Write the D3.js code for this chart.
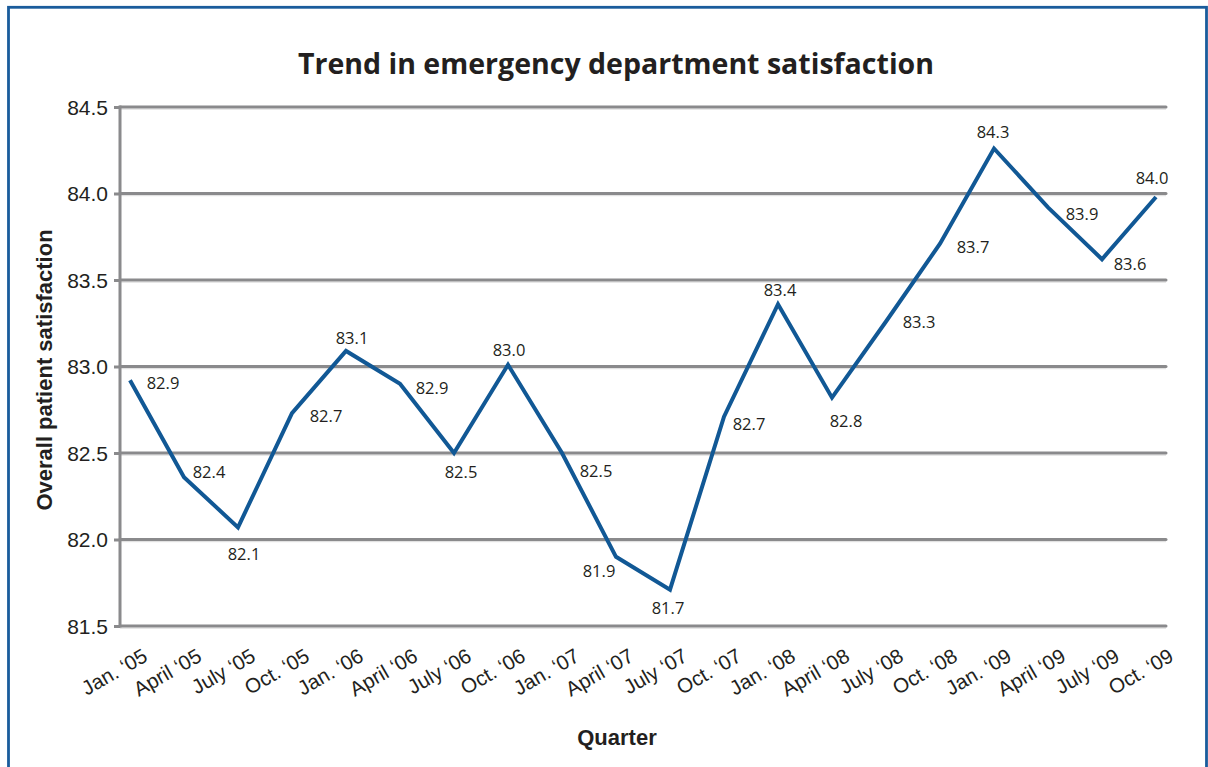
<!DOCTYPE html>
<html>
<head>
<meta charset="utf-8">
<script src="https://cdn.jsdelivr.net/npm/d3@7"></script>
<style>
  html, body { margin: 0; padding: 0; background: #fff; }
  svg { display: block; }
</style>
</head>
<body>
<svg id="chart" width="1208" height="767"></svg>
<script>
// ---- data ----
const quarters = ["Jan. \u201805", "April \u201805", "July \u201805", "Oct. \u201805",
  "Jan. \u201806", "April \u201806", "July \u201806", "Oct. \u201806",
  "Jan. \u201807", "April \u201807", "July \u201807", "Oct. \u201807",
  "Jan. \u201808", "April \u201808", "July \u201808", "Oct. \u201808",
  "Jan. \u201809", "April \u201809", "July \u201809", "Oct. \u201809"];
const satisfaction = [82.92, 82.36, 82.07, 82.73, 83.09, 82.90, 82.50, 83.01,
  82.50, 81.90, 81.71, 82.71, 83.36, 82.82, 83.26, 83.71, 84.26, 83.92, 83.62, 83.98];
const yTicks = [81.5, 82.0, 82.5, 83.0, 83.5, 84.0, 84.5];
// label placement offsets (label centre relative to point), in px
const labelOffsets = [[33,3],[25,-5],[6,27],[34,3],[6,-13],[32,4],[7,19],[1,-15],
  [34,18],[-17,14],[-2,18],[25,7],[2,-14],[14,23],[33,1],[33,3],[-1,-16],[34,7],[28,5],[-4,-19]];

const titleText = "Trend in emergency department satisfaction";
const yTitle = "Overall patient satisfaction";
const xTitle = "Quarter";

// ---- layout ----
const svg = d3.select("#chart");
const plot = { left: 120, right: 1166, top: 107, bottom: 626 };

// border
svg.append("rect")
  .attr("x", 8.5).attr("y", 7.3).attr("width", 1198).attr("height", 800)
  .attr("fill", "none").attr("stroke", "#1a5c9c").attr("stroke-width", 2.8);

const x = d3.scalePoint().domain(quarters).range([130, 1156]);
const y = d3.scaleLinear().domain([81.5, 84.5]).range([plot.bottom, plot.top]);

// gridlines (with faint shadow)
const grid = svg.append("g");
grid.selectAll("line.shadow").data(yTicks).enter().append("line")
  .attr("class", "shadow")
  .attr("x1", plot.left).attr("x2", plot.right)
  .attr("y1", d => y(d) + 2.2).attr("y2", d => y(d) + 2.2)
  .attr("stroke", "#dcdcdc").attr("stroke-width", 1);
grid.selectAll("line.g").data(yTicks).enter().append("line")
  .attr("class", "g")
  .attr("x1", plot.left).attr("x2", plot.right)
  .attr("y1", d => y(d)).attr("y2", d => y(d))
  .attr("stroke", "#8a8a8c").attr("stroke-width", 3).attr("stroke-linecap", "round");

// y axis
const yAxis = d3.axisLeft(y).tickValues(yTicks).tickFormat(d3.format(".1f"))
  .tickSize(6).tickPadding(6);
const yg = svg.append("g").attr("transform", `translate(${plot.left},0)`).call(yAxis);
yg.select(".domain").remove();
yg.selectAll(".tick line").attr("stroke", "#8a8a8c").attr("stroke-width", 3);
yg.selectAll(".tick text")
  .attr("font-family", "'Liberation Sans', Arial, sans-serif")
  .attr("font-size", 21).attr("fill", "#231f20").attr("dy", "0.35em");
svg.append("line")
  .attr("x1", plot.left).attr("x2", plot.left)
  .attr("y1", plot.top - 1.5).attr("y2", plot.bottom + 1.5)
  .attr("stroke", "#8a8a8c").attr("stroke-width", 3);

// x axis labels
const xg = svg.append("g");
xg.selectAll("text").data(quarters).enter().append("text")
  .attr("transform", d => `translate(${x(d) + 19},${plot.bottom + 34}) rotate(-30)`)
  .attr("text-anchor", "end")
  .attr("font-family", "'Liberation Sans', Arial, sans-serif")
  .attr("font-size", 20.5).attr("fill", "#231f20")
  .text(d => d);

// line
const line = d3.line().x((d, i) => x(quarters[i])).y(d => y(d));
svg.append("path").datum(satisfaction)
  .attr("d", line).attr("fill", "none")
  .attr("stroke", "#115895").attr("stroke-width", 4)
  .attr("stroke-linejoin", "miter");

// data labels
svg.append("g").selectAll("text").data(satisfaction).enter().append("text")
  .attr("x", (d, i) => x(quarters[i]) + labelOffsets[i][0])
  .attr("y", (d, i) => y(d) + labelOffsets[i][1])
  .attr("dy", "0.36em")
  .attr("text-anchor", "middle")
  .attr("font-family", "'Open Sans', 'Noto Sans', sans-serif")
  .attr("font-size", 16.5).attr("fill", "#231f20")
  .text(d => d3.format(".1f")(d));

// title
svg.append("text")
  .attr("x", 616).attr("y", 73.5)
  .attr("text-anchor", "middle")
  .attr("font-family", "'Open Sans', 'Noto Sans', sans-serif")
  .attr("font-weight", "bold").attr("font-size", 28)
  .attr("fill", "#231f20")
  .attr("textLength", 636).attr("lengthAdjust", "spacingAndGlyphs")
  .text(titleText);

// y title
svg.append("text")
  .attr("transform", `translate(52,370) rotate(-90)`)
  .attr("text-anchor", "middle")
  .attr("font-family", "'Liberation Sans', Arial, sans-serif")
  .attr("font-weight", "bold").attr("font-size", 22)
  .attr("fill", "#231f20")
  .text(yTitle);

// x title
svg.append("text")
  .attr("x", 617).attr("y", 745)
  .attr("text-anchor", "middle")
  .attr("font-family", "'Liberation Sans', Arial, sans-serif")
  .attr("font-weight", "bold").attr("font-size", 22)
  .attr("fill", "#231f20")
  .text(xTitle);
</script>
</body>
</html>
